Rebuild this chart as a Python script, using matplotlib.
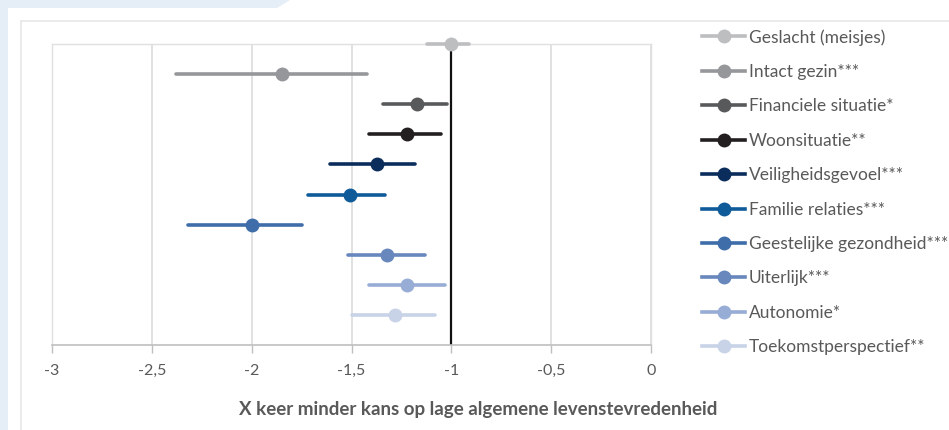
import matplotlib
matplotlib.use("Agg")
import matplotlib.pyplot as plt
from matplotlib.lines import Line2D
from matplotlib.patches import Polygon

categories = ["Geslacht (meisjes)", "Intact gezin***", "Financiele situatie*", "Woonsituatie**",
              "Veiligheidsgevoel***", "Familie relaties***", "Geestelijke gezondheid***",
              "Uiterlijk***", "Autonomie*", "Toekomstperspectief**"]
estimate = [-1.00, -1.85, -1.17, -1.22, -1.37, -1.51, -2.00, -1.32, -1.22, -1.28]
ci_low = [-1.12, -2.38, -1.34, -1.41, -1.61, -1.72, -2.32, -1.52, -1.41, -1.50]
ci_high = [-0.91, -1.42, -1.02, -1.05, -1.18, -1.33, -1.75, -1.13, -1.03, -1.08]
colors = ["#BDBEC0", "#96979A", "#58595B", "#231F20", "#0B2D5C", "#0F5B9A",
          "#3E6DA9", "#6787BD", "#98ADD5", "#C8D3E8"]
xticks = [-3, -2.5, -2, -1.5, -1, -0.5, 0]
xticklabels = ["-3", "-2,5", "-2", "-1,5", "-1", "-0,5", "0"]
reference = -1
xlabel = "X keer minder kans op lage algemene levenstevredenheid"

W, H = 949, 430
fig = plt.figure(figsize=(W / 100, H / 100), dpi=100)
fig.patch.set_facecolor("white")

def fx(px):
    return px / W

def fy(py):
    return (H - py) / H

# decorative background
bg = "#E5EDF6"
fig.patches.append(Polygon([(fx(0), fy(0)), (fx(290), fy(0)), (fx(277), fy(8)), (fx(8), fy(8)),
                            (fx(8), fy(430)), (fx(0), fy(430))], closed=True,
                           transform=fig.transFigure, facecolor=bg, edgecolor="none", zorder=0))
fig.add_artist(Line2D([fx(21), fx(21)], [fy(21), fy(430)], transform=fig.transFigure,
                      color="#E8E8E8", lw=1.2))
fig.add_artist(Line2D([fx(21), fx(949)], [fy(21), fy(21)], transform=fig.transFigure,
                      color="#E8E8E8", lw=1.2))

ax = fig.add_axes([fx(52), fy(345), fx(651) - fx(52), fy(44) - fy(345)])
n = len(categories)
ys = list(range(n, 0, -1))

for i in range(n):
    ax.plot([ci_low[i], ci_high[i]], [ys[i], ys[i]], color=colors[i], lw=2.6,
            solid_capstyle="round", zorder=3, clip_on=False)
    ax.plot(estimate[i], ys[i], "o", color=colors[i], ms=9, zorder=4, clip_on=False)

ax.axvline(reference, color="#111111", lw=1.6, zorder=2)
ax.set_xlim(-3, 0)
ax.set_ylim(0, n)
ax.set_xticks(xticks)
ax.set_xticklabels(xticklabels)
ax.set_yticks([])
ax.grid(axis="x", color="#D9D9D9", lw=1.1, zorder=1)
ax.set_axisbelow(True)
for s in ["top", "left", "right"]:
    ax.spines[s].set_color("#E0E0E0")
    ax.spines[s].set_linewidth(1.0)
ax.spines["bottom"].set_color("#BFBFBF")
ax.spines["bottom"].set_linewidth(1.2)
ax.tick_params(axis="x", direction="out", length=5.5, width=1.0, color="#BFBFBF",
               labelsize=11.5, labelcolor="#595959", pad=8)
for t in ax.get_xticklabels():
    t.set_family("Lato")

fig.text(fx(478), fy(410), xlabel, ha="center", va="center", fontsize=13.5, fontweight="bold",
         color="#595959", family="Lato")

handles = [Line2D([0], [0], color=c, lw=2.6, marker="o", ms=9) for c in colors]
leg = fig.legend(handles, categories, loc="upper left", bbox_to_anchor=(fx(702), fy(29)),
                 bbox_transform=fig.transFigure, frameon=False, borderpad=0, borderaxespad=0,
                 handlelength=2.5, handletextpad=0.2, labelspacing=1.06,
                 prop={"family": "Lato", "size": 12.5})
for t in leg.get_texts():
    t.set_color("#595959")

fig.savefig("out.png", dpi=100)
